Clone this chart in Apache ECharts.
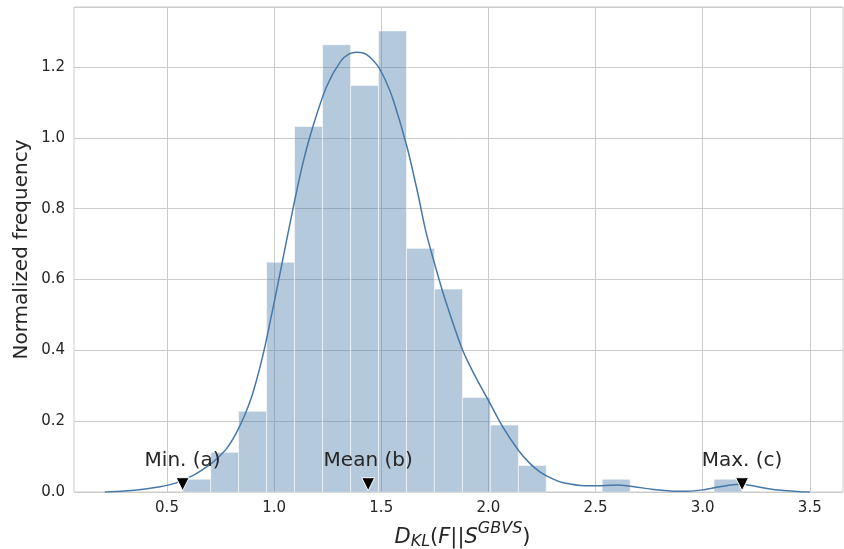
<!DOCTYPE html>
<html><head><meta charset="utf-8">
<script src="https://cdn.jsdelivr.net/npm/echarts@6/dist/echarts.min.js"></script>
<style>html,body{margin:0;padding:0;background:#fff}#c{width:844px;height:549px}</style>
</head><body><div id="c"></div>
<script>
// Histogram bin edges (20 bins) and normalized heights
const binEdges = [0.573, 0.704, 0.834, 0.965, 1.095, 1.226, 1.357, 1.487, 1.618, 1.748, 1.879,
                  2.009, 2.140, 2.270, 2.401, 2.531, 2.662, 2.792, 2.923, 3.053, 3.184];
const binHeights = [0.036, 0.112, 0.228, 0.649, 1.032, 1.263, 1.148, 1.302, 0.688, 0.573,
                    0.267, 0.189, 0.075, 0, 0, 0.036, 0, 0, 0, 0.036];
// KDE curve
const kdeX = [0.21, 0.30, 0.39, 0.46, 0.54, 0.62, 0.70, 0.74, 0.78, 0.82, 0.86, 0.90, 0.95, 1.00,
              1.03, 1.09, 1.135, 1.18, 1.245, 1.31, 1.35, 1.385, 1.43, 1.48, 1.52, 1.556, 1.62,
              1.67, 1.71, 1.77, 1.80, 1.88, 1.94, 2.00, 2.07, 2.14, 2.19, 2.24, 2.30, 2.35, 2.45,
              2.53, 2.60, 2.68, 2.76, 2.85, 2.93, 3.00, 3.07, 3.13, 3.18, 3.24, 3.30, 3.38, 3.45, 3.50];
const kdeY = [0.000, 0.003, 0.008, 0.014, 0.025, 0.046, 0.077, 0.098, 0.124, 0.163, 0.213, 0.278,
              0.392, 0.535, 0.625, 0.806, 0.930, 1.030, 1.145, 1.216, 1.237, 1.242, 1.236, 1.206,
              1.162, 1.107, 0.975, 0.845, 0.731, 0.600, 0.540, 0.400, 0.325, 0.259, 0.181, 0.118,
              0.083, 0.057, 0.037, 0.026, 0.018, 0.018, 0.020, 0.015, 0.008, 0.003, 0.002, 0.006,
              0.014, 0.020, 0.022, 0.017, 0.010, 0.004, 0.001, 0.000];
// Annotated markers
const markerX = [0.573, 1.439, 3.184];
const markerY = [0.022, 0.022, 0.022];
const markerLabels = ['Min. (a)', 'Mean (b)', 'Max. (c)'];
// Tick labels
const xTicks = [0.5, 1.0, 1.5, 2.0, 2.5, 3.0, 3.5];
const yTickStep = 0.2;

const FONT = 'DejaVu Sans';
const TXT = '#262626';
const BASE = 'rgb(70,120,168)';

const histData = binHeights.map((h, i) => [binEdges[i], binEdges[i + 1], h]);
const kdeData = kdeX.map((x, i) => [x, kdeY[i]]);
const markerData = markerX.map((x, i) => ({ value: [x, markerY[i]], name: markerLabels[i] }));

const chart = echarts.init(document.getElementById('c'), null, { renderer: 'canvas' });
chart.setOption({
  animation: false,
  backgroundColor: '#ffffff',
  grid: { left: 74, right: 1, top: 7, bottom: 57, containLabel: false, outerBoundsMode: 'none',
          show: true, borderColor: '#cccccc', borderWidth: 1 },
  xAxis: {
    type: 'value', min: 0.066, max: 3.655,
    axisLine: { show: false },
    axisTick: { show: false, customValues: xTicks },
    axisLabel: { customValues: xTicks, formatter: v => v.toFixed(1), color: TXT, fontSize: 15, fontFamily: FONT, margin: 9 },
    splitLine: { show: true, lineStyle: { color: '#cccccc', width: 1 } },
    name: '{i|D}{sub|KL}{n|(}{i|F}{n|||}{i|S}{sup|GBVS}{n|)}',
    nameLocation: 'middle', nameGap: 31,
    nameTextStyle: {
      padding: [0, 0, 0, 8],
      rich: {
        i: { fontFamily: FONT, fontStyle: 'italic', fontSize: 21, color: TXT, lineHeight: 30, verticalAlign: 'middle' },
        n: { fontFamily: FONT, fontSize: 21, color: TXT, lineHeight: 30, verticalAlign: 'middle' },
        sub: { fontFamily: FONT, fontStyle: 'italic', fontSize: 16, color: TXT, lineHeight: 20, verticalAlign: 'middle', padding: [8, 0, 0, 0] },
        sup: { fontFamily: FONT, fontStyle: 'italic', fontSize: 16, color: TXT, lineHeight: 20, verticalAlign: 'middle', padding: [0, 0, 18, 0] }
      }
    }
  },
  yAxis: {
    type: 'value', min: 0, max: 1.3695, interval: yTickStep,
    axisLine: { show: false }, axisTick: { show: false },
    axisLabel: { formatter: v => v.toFixed(1), color: TXT, fontSize: 15, fontFamily: FONT, margin: 9, showMaxLabel: false },
    splitLine: { show: true, lineStyle: { color: '#cccccc', width: 1 } },
    name: 'Normalized frequency', nameLocation: 'middle', nameGap: 42, nameMoveOverlap: false,
    nameTextStyle: { fontFamily: FONT, fontSize: 20, color: TXT }
  },
  series: [
    {
      type: 'custom', data: histData, encode: { x: [0, 1], y: 2 }, z: 2,
      renderItem: function (params, api) {
        const h = api.value(2);
        if (!(h > 0)) return null;
        const p0 = api.coord([api.value(0), 0]);
        const p1 = api.coord([api.value(1), h]);
        return {
          type: 'rect',
          shape: { x: p0[0], y: p1[1], width: p1[0] - p0[0], height: p0[1] - p1[1] },
          style: { fill: 'rgba(70,120,168,0.4)', stroke: 'rgba(255,255,255,0.55)', lineWidth: 1 }
        };
      }
    },
    {
      type: 'line', data: kdeData, showSymbol: false, smooth: 0.3, z: 3,
      lineStyle: { color: BASE, width: 1.5 }
    },
    {
      type: 'scatter', data: markerData, z: 4,
      symbol: 'triangle', symbolRotate: 180, symbolSize: 13,
      itemStyle: { color: '#000000', borderColor: '#ffffff', borderWidth: 1, opacity: 1 },
      label: { show: true, position: 'top', distance: 6, formatter: p => p.name, fontFamily: FONT, fontSize: 20, color: TXT, opacity: 1 }
    }
  ]
});
</script>
</body></html>
